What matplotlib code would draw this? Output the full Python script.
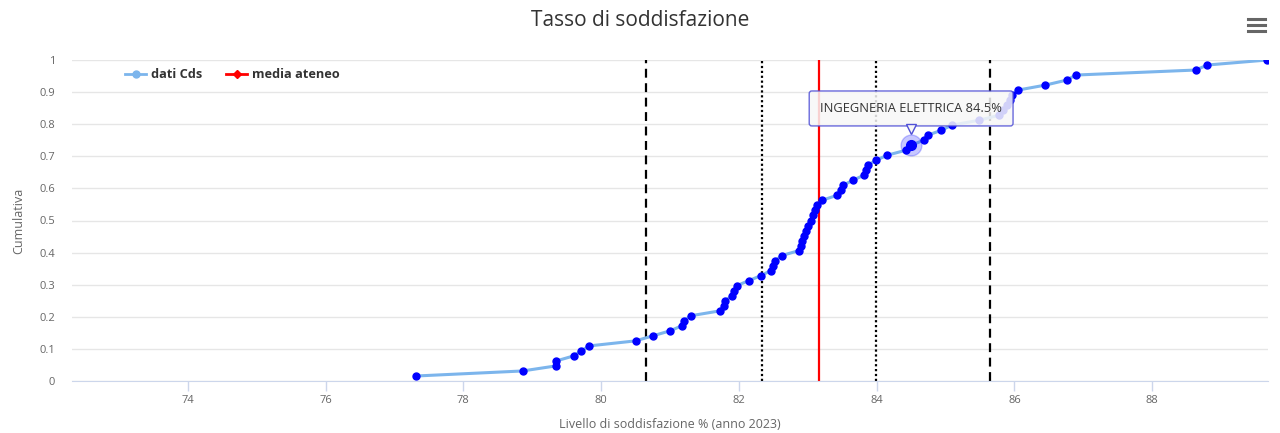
import numpy as np
import matplotlib
matplotlib.use('Agg')
import matplotlib.pyplot as plt
from matplotlib.lines import Line2D
from matplotlib.transforms import ScaledTranslation

plt.rcParams['font.family'] = ['Open Sans', 'DejaVu Sans']

# satisfaction level of each course (sorted)
livello = [77.32, 78.86, 79.34, 79.35, 79.60, 79.71, 79.83, 80.50, 80.75, 81.00,
           81.17, 81.20, 81.30, 81.73, 81.78, 81.80, 81.90, 81.93, 81.97, 82.14,
           82.32, 82.46, 82.50, 82.53, 82.62, 82.87, 82.90, 82.92, 82.95, 82.98,
           83.01, 83.04, 83.07, 83.10, 83.13, 83.20, 83.42, 83.48, 83.51, 83.65,
           83.81, 83.84, 83.87, 83.99, 84.15, 84.42, 84.50, 84.68, 84.74, 84.94,
           85.09, 85.49, 85.78, 85.84, 85.89, 85.93, 85.97, 86.05, 86.45, 86.76,
           86.89, 88.63, 88.80, 89.67]
media_ateneo = 83.16
soglie = [80.65, 82.33, 83.99, 85.65]
stili_soglie = [(0, (4, 2.5)), (0, (1, 1.2)), (0, (1, 1.2)), (0, (4, 2.5))]
evidenziato = 'INGEGNERIA ELETTRICA'
valore_evidenziato = 84.50
x_ticks = [74, 76, 78, 80, 82, 84, 86, 88]
y_ticks = [0, 0.1, 0.2, 0.3, 0.4, 0.5, 0.6, 0.7, 0.8, 0.9, 1]
y_labels = ['0', '0.1', '0.2', '0.3', '0.4', '0.5', '0.6', '0.7', '0.8', '0.9', '1']

x = np.array(livello)
cum = np.arange(1, len(x) + 1) / len(x)

fig = plt.figure(figsize=(12.8, 4.33), dpi=100, facecolor='white')
ax = fig.add_axes([72 / 1280, 1 - 381 / 433, 1196 / 1280, 321 / 433])

ax.set_xlim(72.32, 89.68)
ax.set_ylim(0, 1)

# grid
ax.set_yticks(y_ticks)
ax.set_yticklabels(y_labels)
ax.set_xticks(x_ticks)
ax.grid(axis='y', color='#e6e6e6', linewidth=1)
ax.set_axisbelow(True)
for s in ['top', 'right', 'left']:
    ax.spines[s].set_visible(False)
ax.spines['bottom'].set_color('#ccd6eb')
ax.tick_params(axis='y', length=0, pad=12, labelsize=8, labelcolor='#666666')
ax.tick_params(axis='x', length=7, width=1, color='#ccd6eb', pad=3,
               labelsize=8, labelcolor='#666666')

# reference lines
for v, st in zip(soglie, stili_soglie):
    ax.axvline(v, color='black', linestyle=st, linewidth=1.6, zorder=2)
ax.axvline(media_ateneo, color='#ff0000', linewidth=1.6, zorder=2)

# main series
ax.plot(x, cum, color='#7cb5ec', linewidth=2.2, zorder=3)
ax.plot(x, cum, linestyle='none', marker='o', markersize=5,
        color='#0000ff', zorder=4)

# hovered point
k = int(np.argmin(np.abs(x - valore_evidenziato)))
ax.plot(x[k], cum[k], marker='o', markersize=15, color='#0000ff',
        alpha=0.22, linestyle='none', zorder=4)
ax.plot(x[k], cum[k], marker='o', markersize=7, color='#0000ff',
        linestyle='none', zorder=5)

ax.annotate(f'{evidenziato} {valore_evidenziato:.1f}%', xy=(x[k], cum[k]),
            xytext=(0, 26.5), textcoords='offset points', ha='center', va='center',
            fontsize=9.3, color='#333333', zorder=7,
            bbox=dict(boxstyle='round,pad=0.85,rounding_size=0.2',
                      facecolor='#f7f7f7', edgecolor='#4f4fd6', alpha=0.85,
                      linewidth=1))
ax.plot(x[k], cum[k], marker='v', markersize=7, markerfacecolor='#f7f7f7',
        markeredgecolor='#4f4fd6', markeredgewidth=1, linestyle='none', zorder=8,
        transform=ax.transData + ScaledTranslation(0, 11.5 / 72, fig.dpi_scale_trans))

# legend
handles = [Line2D([], [], color='#7cb5ec', linewidth=2, marker='o', markersize=5),
           Line2D([], [], color='#ff0000', linewidth=2, marker='D', markersize=4.5)]
leg = ax.legend(handles, ['dati Cds', 'media ateneo'], loc='upper left',
                bbox_to_anchor=(0.035, 1.01), ncol=2, frameon=False,
                handlelength=1.6, handletextpad=0.4, columnspacing=1.9,
                prop={'weight': 'bold', 'size': 9.2})
for t in leg.get_texts():
    t.set_color('#333333')

ax.set_xlabel('Livello di soddisfazione % (anno 2023)', fontsize=9,
              color='#666666', labelpad=9)
ax.set_ylabel('Cumulativa', fontsize=9, color='#666666', labelpad=10)

fig.text(0.5, 1 - 20 / 433, 'Tasso di soddisfazione', ha='center', va='center',
         fontsize=15, color='#333333')

# menu icon
for yy in [19, 25, 31]:
    fig.add_artist(Line2D([1248 / 1280, 1265 / 1280], [1 - yy / 433, 1 - yy / 433],
                          color='#666666', linewidth=2.2))

fig.savefig('out.png', dpi=100, facecolor='white')
